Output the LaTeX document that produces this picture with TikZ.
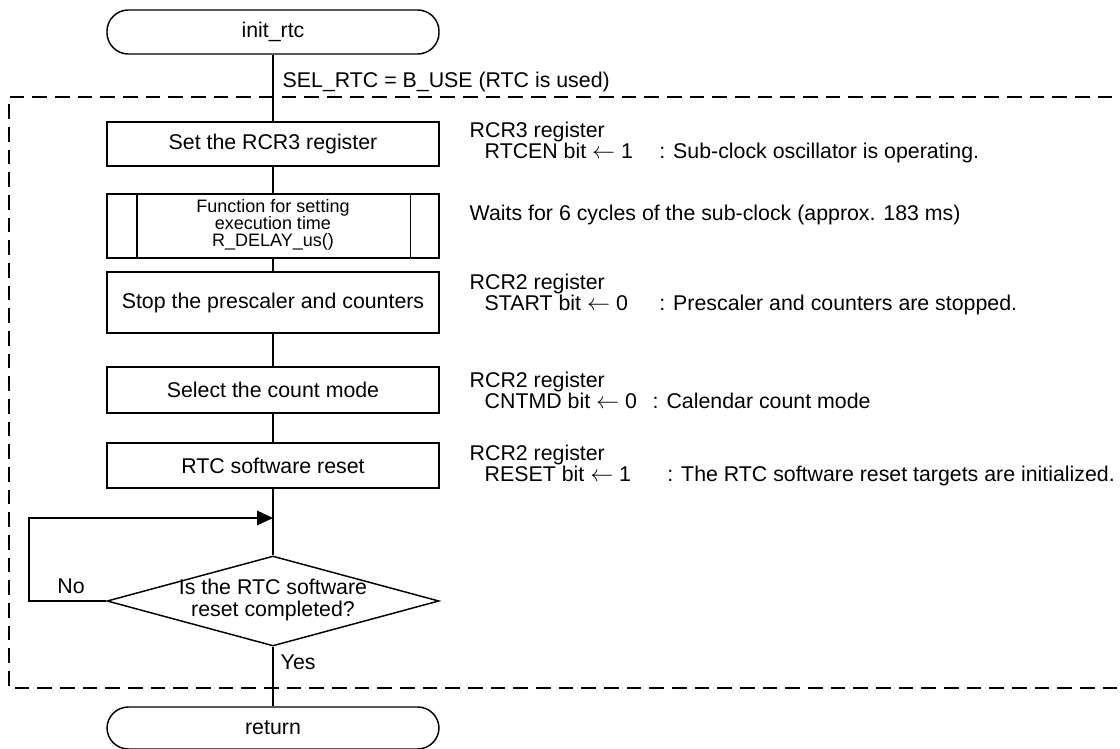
\documentclass[tikz,border=0pt]{standalone}
\usepackage{fontspec}
\setmainfont{Liberation Sans}
\usetikzlibrary{arrows.meta,shapes.geometric}
\begin{document}
\begin{tikzpicture}[x=0.75pt,y=-0.75pt,
  line width=1.1pt,
  every node/.style={font=\fontsize{16}{18}\selectfont, inner sep=0pt},
  term/.style={draw, rounded corners=16pt, minimum width=249pt, minimum height=33pt},
  proc/.style={draw, minimum width=249pt},
  dec/.style={draw, diamond, shape aspect=3.7, minimum width=249pt, minimum height=67.5pt},
  dectext/.style={align=center, font=\fontsize{16}{16}\selectfont},
  anno/.style={anchor=north west, align=left, font=\fontsize{16}{16}\selectfont},
  small/.style={align=center, font=\fontsize{13.5}{13}\selectfont},
  lbl/.style={font=\fontsize{16}{18}\selectfont},
  dashbox/.style={dash pattern=on 11pt off 6pt, line width=1.1pt},
  tip/.style={-{Triangle[length=12pt,width=11pt]}}
]
\useasboundingbox (0,0) rectangle (1120,749);
\clip (0,0) rectangle (1120,749);

% dashed frame
\draw[dashbox] (1135,97) -- (9,97) -- (9,688) -- (1135,688);

% flow nodes
\node[term] (init) at (273,32) {init\_rtc};
\node[proc, minimum height=33pt] (b1) at (273,144) {Set the RCR3 register};
\node[proc, minimum height=48pt] (b2) at (273,226) {};
\node[small] (b2t) at (273,225) {Function for setting\\execution time\\R\_DELAY\_us()};
\node[proc, minimum height=45.75pt] (b3) at (273,302.5) {Stop the prescaler and counters};
\node[proc, minimum height=34.5pt] (b4) at (273,390) {Select the count mode};
\node[proc, minimum height=33.75pt] (b5) at (273,465.5) {RTC software reset};
\coordinate (merge) at (273,518);
\node[dec] (dia) at (273,601) {};
\node[dectext] (diat) at (273,600) {Is the RTC software\\reset completed?};
\node[term, minimum height=31.5pt] (ret) at (273,728) {return};
\coordinate (loopA) at (29,601);
\coordinate (loopB) at (29,518);

% predefined process inner bars
\draw ([xshift=23pt]b2.north west) -- ([xshift=23pt]b2.south west);
\draw ([xshift=-22pt]b2.north east) -- ([xshift=-22pt]b2.south east);

% connectors
\draw (init) -- (b1);
\draw (b1) -- (b2);
\draw (b2) -- (b3);
\draw (b3) -- (b4);
\draw (b4) -- (b5);
\draw (b5) -- (dia.north);
\draw (dia.south) -- (ret);
\draw[tip] (dia.west) -- (loopA) -- (loopB) -- (merge);

% labels
\node[lbl, anchor=west] (sel) at (282,82) {SEL\_RTC = B\_USE (RTC is used)};
\node[lbl] (no) at (71,586) {No};
\node[lbl, anchor=west] (yes) at (280,662) {Yes};

% annotations
\node[anno] (a1) at (469,121) {RCR3 register\\\hspace*{11.25pt}\makebox[131pt][l]{RTCEN bit $\leftarrow$ 1}: Sub-clock oscillator is operating.};
\node[anno] (a2) at (469,204) {Waits for 6 cycles of the sub-clock (approx. 183 ms)};
\node[anno] (a3) at (469,273) {RCR2 register\\\hspace*{11.25pt}\makebox[131pt][l]{START bit $\leftarrow$ 0}: Prescaler and counters are stopped.};
\node[anno] (a4) at (469,371) {RCR2 register\\\hspace*{11.25pt}\makebox[126pt][l]{CNTMD bit $\leftarrow$ 0}: Calendar count mode};
\node[anno] (a5) at (469,444) {RCR2 register\\\hspace*{11.25pt}\makebox[137pt][l]{RESET bit $\leftarrow$ 1}: The RTC software reset targets are initialized.};
\end{tikzpicture}
\end{document}
